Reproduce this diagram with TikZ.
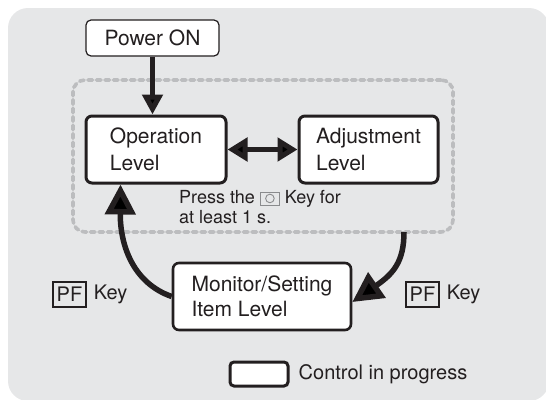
\documentclass[tikz,border=0pt]{standalone}
\usepackage{fontspec}
\setmainfont{TeX Gyre Heros}
\usepackage{tikz}
\usetikzlibrary{arrows.meta,positioning}
\definecolor{panel}{HTML}{E6E7E8}
\definecolor{grpline}{HTML}{BCBDBF}
\definecolor{ink}{HTML}{231F20}
\definecolor{keygray}{HTML}{8A8B8D}

\newcommand{\ctrlkey}{\tikz[baseline=1pt]{\draw[line width=0.9pt,draw=keygray] (0pt,0pt) rectangle (19pt,13pt);
  \draw[line width=0.9pt,draw=keygray] (9.5pt,6.5pt) circle[radius=4.3pt];}}

\tikzset{
  lvl/.style={draw=ink,fill=white,text=ink,line width=3pt,rounded corners=6pt,align=left,
    font=\fontsize{21}{27}\selectfont,inner sep=0pt},
  pwrbox/.style={draw=ink,fill=white,text=ink,line width=1.2pt,rounded corners=5pt,
    font=\fontsize{21}{25}\selectfont,inner sep=0pt,minimum width=133pt,minimum height=36pt},
  grpbox/.style={draw=grpline,line width=3.6pt,dash pattern=on 4.5pt off 4pt,line cap=round,
    rounded corners=12pt,minimum width=380pt,minimum height=152pt,inner sep=0pt},
  pfkey/.style={draw=ink,text=ink,line width=1.3pt,font=\fontsize{20}{24}\selectfont,
    minimum width=33pt,minimum height=25pt,inner sep=0pt},
  lbl/.style={text=ink,font=\fontsize{20}{24}\selectfont,inner sep=0pt},
  note/.style={text=ink,font=\fontsize{18}{20}\selectfont,inner sep=0pt,align=left},
  arr/.style={draw=ink,line width=5pt,-{Triangle[length=20pt,width=20pt]}},
  dblarr/.style={draw=ink,line width=5pt,{Triangle[length=20pt,width=23pt]}-{Triangle[length=20pt,width=23pt]}},
  bigarr/.style={draw=ink,line width=5.5pt,-{Triangle[length=30pt,width=30pt]}}
}

\begin{document}
\begin{tikzpicture}[x=1pt,y=1pt]
\useasboundingbox (0,0) rectangle (546,-399);
\fill[panel,rounded corners=20pt] (8,-8) rectangle (549,-401);

% group of levels reached by key presses
\node[grpbox] (grp) at (263,-156) {};
\node[pwrbox] (pwr) at (152.5,-38) {Power ON};
\node[lvl,minimum width=140pt,minimum height=67pt] (op) at (156,-149.5) {Operation\\Level};
\node[lvl,minimum width=139pt,minimum height=67pt] (adj) at (368.5,-149.5) {Adjustment\\Level};
\node[lvl,line width=2.6pt,minimum width=178pt,minimum height=67pt,
  font=\fontsize{21}{25}\selectfont] (mon) at (262,-296.5) {Monitor/Setting\\Item Level};
\node[note,anchor=west] (hold) at (179,-207.5) {Press the \ctrlkey\ Key for\\at least 1 s.};

% PF key labels
\node[pfkey] (pfl) at (69.5,-294.5) {PF};
\node[lbl,right=7pt of pfl] (keyl) {Key};
\node[pfkey] (pfr) at (422.5,-294.5) {PF};
\node[lbl,right=7pt of pfr] (keyr) {Key};

% legend
\node[draw=ink,fill=white,line width=3pt,rounded corners=4pt,minimum width=58pt,
  minimum height=24pt,inner sep=0pt] (leg) at (259,-374) {};
\node[lbl,right=9pt of leg] (legtxt) {Control in progress};

% connectors
\coordinate (rel) at (404,-232);
\draw[arr] (pwr.south) -- (pwr.south |- op.north);
\draw[dblarr] (op.east) -- (adj.west);
\draw[bigarr] (mon.west) .. controls (133,-283) and (120,-245) .. ([xshift=36pt]op.south west);
\draw[bigarr] (rel) .. controls (404,-262) and (393,-274) .. ([yshift=-5.5pt]mon.east);
\end{tikzpicture}
\end{document}
